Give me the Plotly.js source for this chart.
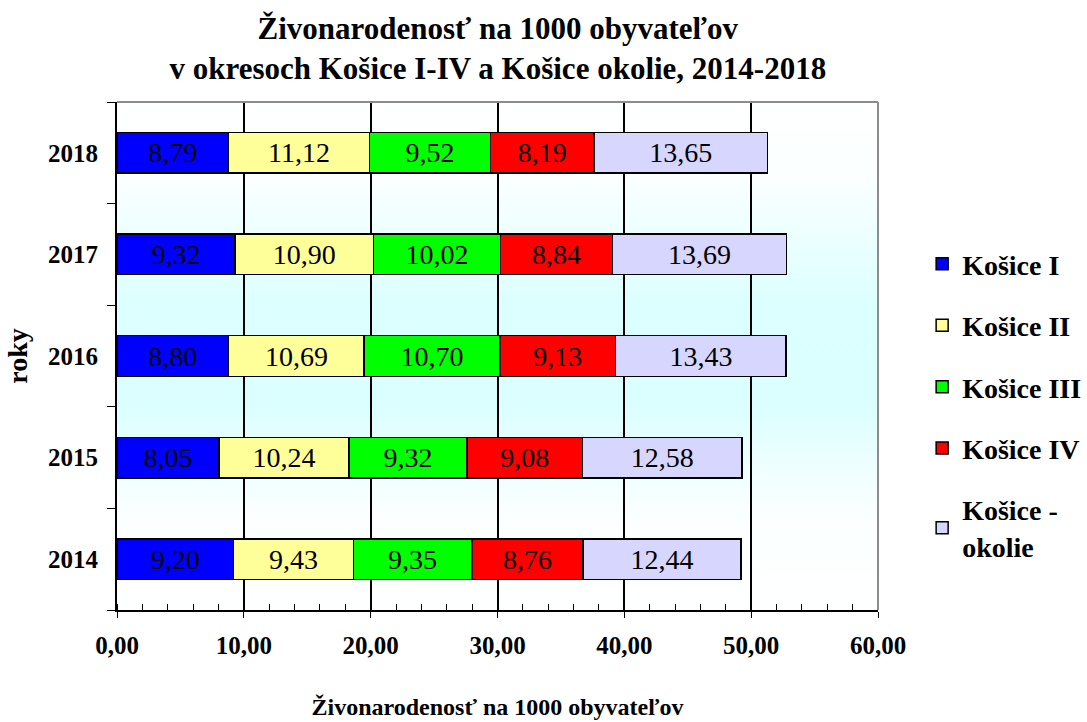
<!DOCTYPE html>
<html>
<head>
<meta charset="utf-8">
<script src="https://cdn.plot.ly/plotly-3.0.1.min.js"></script>
<style>html,body{margin:0;padding:0;background:#fff;}#chart{width:1087px;height:722px;}</style>
</head>
<body>
<div id="chart"></div>
<script>
const years = ['2014', '2015', '2016', '2017', '2018'];
const seriesNames = ['Košice I', 'Košice II', 'Košice III', 'Košice IV', 'Košice -<br>okolie'];
const kosice1 = [9.20, 8.05, 8.80, 9.32, 8.79];
const kosice2 = [9.43, 10.24, 10.69, 10.90, 11.12];
const kosice3 = [9.35, 9.32, 10.70, 10.02, 9.52];
const kosice4 = [8.76, 9.08, 9.13, 8.84, 8.19];
const okolie = [12.44, 12.58, 13.43, 13.69, 13.65];
const colors = ['#0000ff', '#ffff99', '#00ff00', '#ff0000', '#d6d6ff'];
const titleText = 'Živonarodenosť na 1000 obyvateľov<br>v okresoch Košice I-IV a Košice okolie, 2014-2018';
const xTitle = 'Živonarodenosť na 1000 obyvateľov';
const yTitle = 'roky';

const FONT = 'Liberation Serif, Times New Roman, serif';
const values = [kosice1, kosice2, kosice3, kosice4, okolie];

const traces = values.map((v, i) => ({
  type: 'bar',
  orientation: 'h',
  name: seriesNames[i],
  legendgroup: 'g' + i,
  x: v,
  y: years,
  marker: {color: colors[i], line: {color: '#000', width: 1.5}},
  texttemplate: '%{x:.2f}',
  textposition: 'inside',
  insidetextanchor: 'middle',
  textangle: 0,
  textfont: {family: FONT, size: 28, color: '#000'},
  hoverinfo: 'x+y+name'
}));

const gradSvg = '<svg xmlns="http://www.w3.org/2000/svg" width="100" height="100" preserveAspectRatio="none">' +
  '<defs><linearGradient id="g" x1="0" y1="0" x2="0" y2="1">' +
  '<stop offset="0" stop-color="#ffffff"/>' +
  '<stop offset="0.15" stop-color="#fbffff"/>' +
  '<stop offset="0.4" stop-color="#dcffff"/>' +
  '<stop offset="0.6" stop-color="#dbffff"/>' +
  '<stop offset="0.72" stop-color="#eefffe"/>' +
  '<stop offset="0.82" stop-color="#fbffff"/>' +
  '<stop offset="1" stop-color="#ffffff"/>' +
  '</linearGradient></defs><rect width="100" height="100" fill="url(#g)"/></svg>';

const centerTicks = years.map(y => ({
  type: 'line', xref: 'paper', yref: 'y', x0: -0.006, x1: 0, y0: y, y1: y,
  line: {color: '#000', width: 1.2}, layer: 'above'
}));

const layout = {
  width: 1087, height: 722,
  paper_bgcolor: '#ffffff',
  plot_bgcolor: 'rgba(0,0,0,0)',
  separators: ', ',
  font: {family: FONT, color: '#000'},
  margin: {l: 117, r: 209, t: 102, b: 112, autoexpand: false},
  barmode: 'stack',
  bargap: 0.6,
  title: {
    text: titleText,
    font: {family: FONT, size: 31, weight: 'bold', color: '#000'},
    x: 0.458, xanchor: 'center', xref: 'container',
    y: 0.946, yanchor: 'top', yref: 'container'
  },
  xaxis: {
    range: [0, 60], dtick: 10, tick0: 0, tickformat: '.2f',
    showgrid: true, gridcolor: '#000', gridwidth: 1.5,
    zeroline: false, showline: true, linecolor: '#000', linewidth: 2,
    ticks: 'outside', ticklen: 6, tickwidth: 1.2, tickcolor: '#000',
    minor: {dtick: 2, ticks: 'inside', ticklen: 6, tickwidth: 1, tickcolor: '#000', showgrid: false},
    tickfont: {family: FONT, size: 25, weight: 'bold', color: '#000'},
    ticklabelstandoff: 6,
    title: {text: xTitle, font: {family: FONT, size: 24, weight: 'bold', color: '#000'}, standoff: 40},
    fixedrange: true
  },
  yaxis: {
    type: 'category', categoryorder: 'array', categoryarray: years,
    range: [-0.5, 4.5],
    showgrid: false, zeroline: false,
    showline: true, linecolor: '#000', linewidth: 2,
    tickson: 'boundaries', ticks: 'outside', ticklen: 8, tickwidth: 1.2, tickcolor: '#000',
    tickfont: {family: FONT, size: 25, weight: 'bold', color: '#000'},
    ticklabelstandoff: 12,
    title: {text: yTitle, font: {family: FONT, size: 28, weight: 'bold', color: '#000'}, standoff: 12},
    fixedrange: true
  },
  legend: {
    x: 1.058, xanchor: 'left', y: 0.73, yanchor: 'top',
    traceorder: 'grouped', tracegroupgap: 22,
    font: {family: FONT, size: 28, weight: 'bold', color: '#000'},
    bgcolor: 'rgba(0,0,0,0)', itemwidth: 30
  },
  images: [{
    source: 'data:image/svg+xml;charset=utf-8,' + encodeURIComponent(gradSvg),
    xref: 'paper', yref: 'paper', x: 0, y: 1, sizex: 1, sizey: 1,
    sizing: 'stretch', xanchor: 'left', yanchor: 'top', layer: 'below'
  }],
  shapes: [
    {type: 'line', xref: 'paper', yref: 'paper', x0: 0, x1: 1, y0: 1, y1: 1, line: {color: '#8c8c8c', width: 2}, layer: 'above'},
    {type: 'line', xref: 'paper', yref: 'paper', x0: 1, x1: 1, y0: 0, y1: 1, line: {color: '#8c8c8c', width: 2}, layer: 'above'}
  ].concat(centerTicks),
  showlegend: true
};

Plotly.newPlot('chart', traces, layout, {displayModeBar: false});
</script>
</body>
</html>
